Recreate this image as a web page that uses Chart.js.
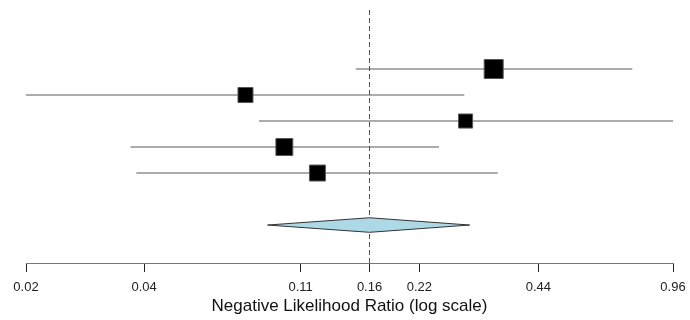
<!DOCTYPE html>
<html>
<head>
<meta charset="utf-8">
<script src="https://cdn.jsdelivr.net/npm/chart.js@4.4.0/dist/chart.umd.min.js"></script>
<style>
  html, body { margin: 0; padding: 0; background: #fff; }
</style>
</head>
<body>
<canvas id="forest" width="690" height="320"></canvas>
<script>
// study estimates with 95% CI (negative likelihood ratio), top to bottom
const estimates = [0.335, 0.078, 0.284, 0.098, 0.119];
const lowerCI = [0.149, 0.0215, 0.0844, 0.0397, 0.0411];
const upperCI = [0.756, 0.282, 0.96, 0.243, 0.343];
const weights = [1.0, 0.79, 0.74, 0.89, 0.84];   // relative study weights
const rows = [7, 6, 5, 4, 3];

// pooled estimate
const summary = { est: 0.1616, lo: 0.0888, hi: 0.291, row: 1 };

// axis ticks (log scale), labels rounded as shown
const tickValues = [0.0215, 0.043, 0.1078, 0.1616, 0.2166, 0.4354, 0.96];
const tickLabels = ['0.02', '0.04', '0.11', '0.16', '0.22', '0.44', '0.96'];

const FONT = "'Liberation Sans', Arial, sans-serif";

const ciSets = rows.map((r, i) => ({
  type: 'line',
  data: [{ x: lowerCI[i], y: r }, { x: upperCI[i], y: r }],
  borderColor: '#5a5a5a',
  borderWidth: 1.1,
  pointRadius: 0,
  order: 3
}));

const datasets = [
  {
    type: 'scatter',
    data: rows.map((r, i) => ({ x: estimates[i], y: r })),
    pointStyle: 'rect',
    pointRadius: weights.map(w => 19 * w / Math.SQRT2),
    backgroundColor: '#000',
    borderColor: '#555',
    borderWidth: 1,
    order: 0
  },
  {
    type: 'line',
    data: [
      { x: summary.lo, y: summary.row },
      { x: summary.est, y: summary.row + 0.28 },
      { x: summary.hi, y: summary.row },
      { x: summary.est, y: summary.row - 0.28 },
      { x: summary.lo, y: summary.row }
    ],
    fill: 'shape',
    backgroundColor: '#add8e6',
    borderColor: '#333',
    borderWidth: 1,
    pointRadius: 0,
    tension: 0,
    order: 1
  },
  {
    type: 'line',
    data: [{ x: summary.est, y: -0.46 }, { x: summary.est, y: 9.27 }],
    borderColor: '#e01010',
    borderWidth: 1,
    borderDash: [5, 3],
    pointRadius: 0,
    order: 2
  },
  ...ciSets
];

new Chart(document.getElementById('forest'), {
  type: 'scatter',
  data: { datasets },
  options: {
    responsive: false,
    animation: false,
    devicePixelRatio: 1,
    layout: { autoPadding: false, padding: { left: 26, right: 17, top: 10, bottom: 0 } },
    plugins: { legend: { display: false }, tooltip: { enabled: false } },
    scales: {
      x: {
        type: 'logarithmic',
        min: tickValues[0],
        max: tickValues[tickValues.length - 1],
        afterBuildTicks: (scale) => {
          scale.ticks = tickValues.map(v => ({ value: v }));
        },
        afterFit: (scale) => {
          scale.height = 57;
          scale.paddingLeft = 0;
          scale.paddingRight = 0;
        },
        grid: {
          drawOnChartArea: false,
          drawTicks: true,
          tickLength: 9,
          color: '#222'
        },
        border: { display: true, color: '#777', width: 1 },
        ticks: {
          autoSkip: false,
          maxRotation: 0,
          padding: 8,
          color: '#222',
          font: { family: FONT, size: 13 },
          callback: (v, i) => tickLabels[i]
        },
        title: {
          display: true,
          text: 'Negative Likelihood Ratio (log scale)',
          color: '#111',
          font: { family: FONT, size: 17 },
          padding: { top: 0, bottom: 3 }
        }
      },
      y: {
        type: 'linear',
        display: false,
        min: -0.46,
        max: 9.27
      }
    }
  }
});
</script>
</body>
</html>
